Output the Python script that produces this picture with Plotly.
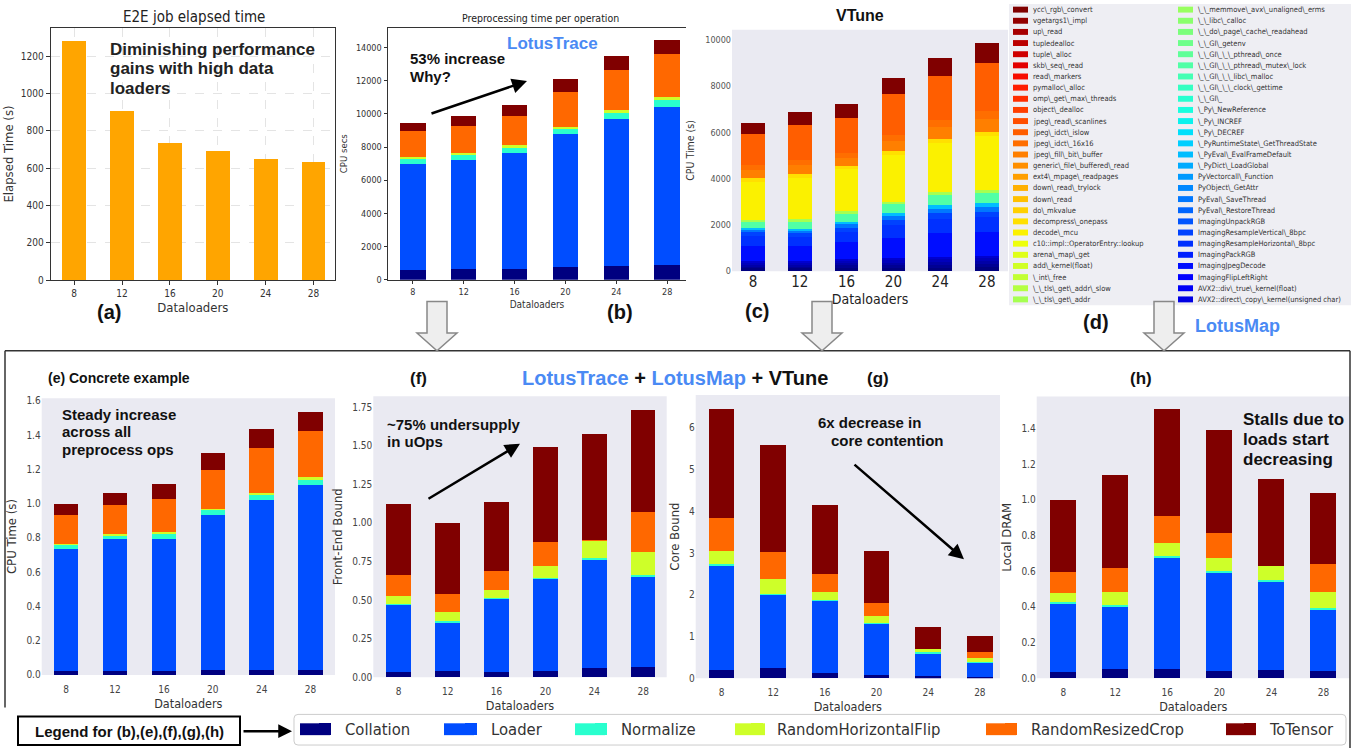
import numpy as np
import plotly.graph_objects as go

# ---------------------------------------------------------------- data
dataloaders = ["8", "12", "16", "20", "24", "28"]

# (a) end-to-end job elapsed time (s)
e2e_elapsed_s = [1280, 905, 737, 690, 652, 636]

ops = ["Collation", "Loader", "Normalize", "RandomHorizontalFlip",
       "RandomResizedCrop", "ToTensor"]

# (b) LotusTrace: preprocessing CPU secs per operation
b_cpu_secs = {
    "Collation": [590, 655, 655, 735, 834, 894],
    "Loader": [6400, 6574, 6991, 8023, 8858, 9533],
    "Normalize": [360, 318, 337, 358, 417, 417],
    "RandomHorizontalFlip": [80, 99, 120, 119, 99, 159],
    "RandomResizedCrop": [1510, 1648, 1747, 2105, 2443, 2581],
    "ToTensor": [516, 576, 676, 775, 814, 854],
}

# (e) CPU time (s)
e_cpu_time = {
    "Collation": [0.023, 0.023, 0.025, 0.029, 0.029, 0.031],
    "Loader": [0.710, 0.769, 0.767, 0.904, 0.990, 1.081],
    "Normalize": [0.025, 0.023, 0.031, 0.029, 0.029, 0.028],
    "RandomHorizontalFlip": [0.007, 0.010, 0.010, 0.009, 0.012, 0.014],
    "RandomResizedCrop": [0.166, 0.167, 0.192, 0.225, 0.263, 0.269],
    "ToTensor": [0.069, 0.073, 0.092, 0.100, 0.114, 0.115],
}

# (f) Front-End Bound
f_front_end = {
    "Collation": [0.036, 0.043, 0.036, 0.043, 0.062, 0.068],
    "Loader": [0.432, 0.312, 0.473, 0.596, 0.701, 0.580],
    "Normalize": [0.006, 0.006, 0.006, 0.006, 0.008, 0.012],
    "RandomHorizontalFlip": [0.054, 0.060, 0.053, 0.075, 0.116, 0.150],
    "RandomResizedCrop": [0.134, 0.118, 0.118, 0.156, 0.004, 0.259],
    "ToTensor": [0.460, 0.463, 0.449, 0.618, 0.684, 0.666],
}

# (g) Core Bound
g_core_bound = {
    "Collation": [0.205, 0.237, 0.134, 0.079, 0.047, 0.032],
    "Loader": [2.495, 1.763, 1.721, 1.231, 0.543, 0.347],
    "Normalize": [0.030, 0.020, 0.025, 0.020, 0.025, 0.016],
    "RandomHorizontalFlip": [0.32, 0.35, 0.19, 0.15, 0.08, 0.085],
    "RandomResizedCrop": [0.78, 0.65, 0.42, 0.32, 0.0, 0.14],
    "ToTensor": [2.63, 2.57, 1.65, 1.26, 0.525, 0.38],
}

# (h) Local DRAM
h_local_dram = {
    "Collation": [0.033, 0.050, 0.052, 0.041, 0.046, 0.042],
    "Loader": [0.386, 0.356, 0.626, 0.552, 0.499, 0.346],
    "Normalize": [0.006, 0.006, 0.005, 0.008, 0.007, 0.007],
    "RandomHorizontalFlip": [0.050, 0.070, 0.074, 0.073, 0.078, 0.089],
    "RandomResizedCrop": [0.120, 0.133, 0.154, 0.142, 0.0, 0.157],
    "ToTensor": [0.406, 0.525, 0.596, 0.573, 0.489, 0.397],
}

# (d) LotusMap legend, top of the stack first
lotusmap_col1 = [
    r"ycc\_rgb\_convert", r"vgetargs1\_impl", r"up\_read", r"tupledealloc",
    r"tuple\_alloc", r"skb\_seq\_read", r"read\_markers", r"pymalloc\_alloc",
    r"omp\_get\_max\_threads", r"object\_dealloc", r"jpeg\_read\_scanlines",
    r"jpeg\_idct\_islow", r"jpeg\_idct\_16x16", r"jpeg\_fill\_bit\_buffer",
    r"generic\_file\_buffered\_read", r"ext4\_mpage\_readpages",
    r"down\_read\_trylock", r"down\_read", r"do\_mkvalue",
    r"decompress\_onepass", r"decode\_mcu", r"c10::impl::OperatorEntry::lookup",
    r"arena\_map\_get", r"add\_kernel(float)", r"\_int\_free",
    r"\_\_tls\_get\_addr\_slow", r"\_\_tls\_get\_addr",
]
lotusmap_col2 = [
    r"\_\_memmove\_avx\_unaligned\_erms", r"\_\_libc\_calloc",
    r"\_\_do\_page\_cache\_readahead", r"\_\_GI\_getenv",
    r"\_\_GI\_\_\_pthread\_once", r"\_\_GI\_\_\_pthread\_mutex\_lock",
    r"\_\_GI\_\_\_libc\_malloc", r"\_\_GI\_\_\_clock\_gettime", r"\_\_GI\_",
    r"\_Py\_NewReference", r"\_Py\_INCREF", r"\_Py\_DECREF",
    r"\_PyRuntimeState\_GetThreadState", r"\_PyEval\_EvalFrameDefault",
    r"\_PyDict\_LoadGlobal", r"PyVectorcall\_Function", r"PyObject\_GetAttr",
    r"PyEval\_SaveThread", r"PyEval\_RestoreThread", r"ImagingUnpackRGB",
    r"ImagingResampleVertical\_8bpc", r"ImagingResampleHorizontal\_8bpc",
    r"ImagingPackRGB", r"ImagingJpegDecode", r"ImagingFlipLeftRight",
    r"AVX2::div\_true\_kernel(float)", r"AVX2::direct\_copy\_kernel(unsigned char)",
]
# functions at the bottom of the stack whose legend rows are cropped away
vtune_unlisted = ["unlisted_1", "unlisted_2", "unlisted_3", "unlisted_4", "unlisted_5"]

# (c) VTune CPU time (s) per function (functions not listed are ~0)
vtune_cpu_time = {
    "unlisted_1": [120, 120, 140, 150, 160, 170],
    "unlisted_2": [90, 90, 110, 120, 130, 140],
    "unlisted_3": [80, 80, 95, 105, 110, 120],
    "unlisted_4": [90, 85, 105, 115, 125, 130],
    "unlisted_5": [80, 80, 90, 100, 107, 115],
    r"ImagingJpegDecode": [640, 630, 709, 854, 1025, 1025],
    r"ImagingResampleHorizontal\_8bpc": [445, 384, 469, 542, 613, 640],
    r"ImagingResampleVertical\_8bpc": [142, 170, 171, 214, 241, 241],
    r"PyEval\_SaveThread": [113, 130, 142, 184, 186, 186],
    r"\_PyEval\_EvalFrameDefault": [58, 72, 90, 128, 157, 185],
    r"\_\_GI\_\_\_pthread\_mutex\_lock": [312, 340, 400, 427, 486, 482],
    r"\_\_tls\_get\_addr": [57, 70, 70, 71, 71, 71],
    r"decode\_mcu": [1650, 1800, 1820, 2007, 2136, 2321],
    r"decompress\_onepass": [142, 156, 142, 171, 171, 213],
    r"jpeg\_fill\_bit\_buffer": [356, 398, 355, 427, 498, 541],
    r"jpeg\_idct\_16x16": [214, 213, 213, 285, 327, 356],
    r"jpeg\_idct\_islow": [1338, 1500, 1520, 1751, 1891, 2062],
    r"ycc\_rgb\_convert": [470, 560, 593, 696, 799, 884],
}

# ---------------------------------------------------------------- helpers
W, H = 1355, 754


def fx(p):
    return p / W


def fy(p):
    return 1 - p / H


def jet(v):
    r = np.interp(v, [0, 0.35, 0.66, 0.89, 1], [0, 0, 1, 1, 0.5])
    g = np.interp(v, [0, 0.125, 0.375, 0.64, 0.91, 1], [0, 0, 1, 1, 0, 0])
    b = np.interp(v, [0, 0.11, 0.34, 0.65, 1], [0.5, 1, 1, 0, 0])
    return "rgb(%d,%d,%d)" % (round(r * 255), round(g * 255), round(b * 255))


FONT = "DejaVu Sans Condensed, DejaVu Sans, sans-serif"
BOLD = "Liberation Sans, Arial, sans-serif"
BLUE = "#4A8AF4"
SEA_BG = "#EAEAF2"
op_colors = [jet(i / 5) for i in range(6)]

fig = go.Figure()

# (a)
fig.add_trace(go.Bar(x=dataloaders, y=e2e_elapsed_s, width=0.5,
                     marker=dict(color="#FFA500", line=dict(width=0)),
                     xaxis="x", yaxis="y", showlegend=False, name="E2E"))

# (b), (e)-(h)
panel_data = [("2", b_cpu_secs), ("4", e_cpu_time), ("5", f_front_end),
              ("6", g_core_bound), ("7", h_local_dram)]
for ax, data in panel_data:
    for i, op in enumerate(ops):
        show = ax == "4"
        fig.add_trace(go.Bar(
            x=dataloaders, y=data[op], width=0.5, name=op, legendgroup=op,
            marker=dict(color=op_colors[i], line=dict(width=0)),
            xaxis="x" + ax, yaxis="y" + ax, showlegend=show,
            legend=("legend" if i == 0 else "legend%d" % (i + 1))))

# (c) stack, bottom first
vtune_stack = vtune_unlisted + list(reversed(lotusmap_col1 + lotusmap_col2))
n_stack = len(vtune_stack)
for s, fn in enumerate(vtune_stack):
    if fn in vtune_cpu_time:
        fig.add_trace(go.Bar(
            x=dataloaders, y=vtune_cpu_time[fn], width=0.5, name=fn,
            marker=dict(color=jet(s / (n_stack - 1)), line=dict(width=0)),
            xaxis="x3", yaxis="y3", showlegend=False))

# ---------------------------------------------------------------- axes
def tf(size, color="#333"):
    return dict(size=size, family=FONT, color=color)


cat = dict(type="category", categoryorder="array", categoryarray=dataloaders,
           zeroline=False, fixedrange=True)

layout = dict(
    width=W, height=H, margin=dict(l=0, r=0, t=0, b=0),
    paper_bgcolor="white", plot_bgcolor="white", barmode="stack",
    font=dict(family=FONT),
)

# (a)
layout["xaxis"] = dict(cat, domain=[fx(50.7), fx(335)], anchor="y", range=[-0.49, 5.45],
                       showline=True, mirror=True, linecolor="#333", ticks="outside",
                       ticklen=4, tickcolor="#333", tickfont=tf(10),
                       showgrid=True, gridcolor="#e4e4e4", griddash="dash",
                       title=dict(text="Dataloaders", font=tf(13), standoff=4))
layout["yaxis"] = dict(domain=[fy(280.7), fy(25)], anchor="x", range=[0, 1352],
                       tickvals=[0, 200, 400, 600, 800, 1000, 1200], tickformat="d",
                       showline=True, mirror=True, linecolor="#333", ticks="outside",
                       ticklen=4, tickcolor="#333", tickfont=tf(10), zeroline=False,
                       showgrid=True, gridcolor="#e4e4e4", griddash="dash",
                       title=dict(text="Elapsed Time (s)", font=tf(13), standoff=4))
# (b)
layout["xaxis2"] = dict(cat, domain=[fx(388), fx(686)], anchor="y2", range=[-0.49, 5.37],
                        showline=True, mirror=True, linecolor="#333", ticks="outside",
                        ticklen=3.5, tickcolor="#333", tickfont=tf(9), showgrid=False,
                        title=dict(text="Dataloaders", font=tf(10), standoff=5))
layout["yaxis2"] = dict(domain=[fy(280), fy(25)], anchor="x2", range=[0, 15200],
                        tickvals=[0, 2000, 4000, 6000, 8000, 10000, 12000, 14000],
                        tickformat="d",
                        showline=True, linecolor="#333", ticks="outside", ticklen=3.5,
                        tickcolor="#333", tickfont=tf(9), showgrid=False, zeroline=False,
                        title=dict(text="CPU secs", font=tf(9.5), standoff=6))
# (c)
layout["xaxis3"] = dict(cat, domain=[fx(732), fx(1008)], anchor="y3", range=[-0.45, 5.45],
                        showline=False, ticks="", showgrid=False, tickfont=tf(15, "#222"),
                        title=dict(text="Dataloaders", font=tf(14, "#222"), standoff=0))
layout["yaxis3"] = dict(domain=[fy(271.5), fy(27)], anchor="x3", range=[0, 10440],
                        tickvals=[0, 2000, 4000, 6000, 8000, 10000], tickformat="d",
                        showline=False,
                        ticks="", showgrid=False, zeroline=False, tickfont=tf(9, "#555"),
                        title=dict(text="CPU Time (s)", font=tf(10.5, "#333"), standoff=8))

sea = [
    ("4", (41.7, 335), (400, 680), [-0.5, 5.5], [0, 1.616],
     [0, 0.2, 0.4, 0.6, 0.8, 1.0, 1.2, 1.4, 1.6], ".1f", "CPU Time (s)"),
    ("5", (373.3, 666.7), (398, 682.3), [-0.52, 5.48], [0, 1.822],
     [0, 0.25, 0.5, 0.75, 1.0, 1.25, 1.5, 1.75], ".2f", "Front-End Bound"),
    ("6", (695.7, 1000), (396.7, 683.3), [-0.5, 5.39], [0, 6.79],
     [0, 1, 2, 3, 4, 5, 6], "d", "Core Bound"),
    ("7", (1036.7, 1350), (398.3, 683.3), [-0.51, 5.51], [0, 1.579],
     [0, 0.2, 0.4, 0.6, 0.8, 1.0, 1.2, 1.4], ".1f", "Local DRAM"),
]
for ax, xs, ys, xr, yr, tv, fmt, ytitle in sea:
    layout["xaxis" + ax] = dict(cat, domain=[fx(xs[0]), fx(xs[1])], anchor="y" + ax,
                                range=xr, showline=False, ticks="outside", ticklen=5,
                                tickcolor="rgba(0,0,0,0)", showgrid=False,
                                tickfont=tf(10, "#444"),
                                title=dict(text="Dataloaders", font=tf(12.5, "#333"),
                                           standoff=5))
    layout["yaxis" + ax] = dict(domain=[fy(ys[1]), fy(ys[0])], anchor="x" + ax, range=yr,
                                tickvals=tv, tickformat=fmt, showline=False, ticks="",
                                showgrid=False, zeroline=False, tickfont=tf(10, "#444"),
                                title=dict(text=ytitle, font=tf(13, "#333"), standoff=6))

# bottom legend: one small legend per operation so each sits where the reference has it
legend_text_x = [345, 491, 621, 777, 1031, 1270]
legend_swatch_x = [300, 444, 575, 735, 986, 1226]
for i, op in enumerate(ops):
    key = "legend" if i == 0 else "legend%d" % (i + 1)
    layout[key] = dict(x=fx(legend_text_x[i] - 40), y=fy(735), xanchor="left",
                       yanchor="middle", orientation="h", bgcolor="rgba(0,0,0,0)",
                       borderwidth=0, font=dict(size=16.5, family=FONT, color="#333"))

# ---------------------------------------------------------------- shapes
shapes = []
for ax in ["3", "4", "5", "6", "7"]:
    shapes.append(dict(type="rect", xref="x%s domain" % ax, yref="y%s domain" % ax,
                       x0=0, x1=1, y0=0, y1=1, fillcolor=SEA_BG, line=dict(width=0),
                       layer="below"))
# (d) legend background
shapes.append(dict(type="rect", xref="paper", yref="paper", x0=fx(1009), x1=fx(1351),
                   y0=fy(306), y1=fy(1), fillcolor="#EEEEF3", line=dict(width=0),
                   layer="below"))


def seg(x0, y0, x1, y1, color="#333", width=1.5):
    shapes.append(dict(type="line", xref="paper", yref="paper", x0=fx(x0), y0=fy(y0),
                       x1=fx(x1), y1=fy(y1), line=dict(color=color, width=width)))


def rounded_rect(x0, y0, x1, y1, r):
    pts = ("M %f,%f L %f,%f Q %f,%f %f,%f L %f,%f Q %f,%f %f,%f L %f,%f "
           "Q %f,%f %f,%f L %f,%f Q %f,%f %f,%f Z") % (
        fx(x0 + r), fy(y0), fx(x1 - r), fy(y0), fx(x1), fy(y0), fx(x1), fy(y0 + r),
        fx(x1), fy(y1 - r), fx(x1), fy(y1), fx(x1 - r), fy(y1),
        fx(x0 + r), fy(y1), fx(x0), fy(y1), fx(x0), fy(y1 - r),
        fx(x0), fy(y0 + r), fx(x0), fy(y0), fx(x0 + r), fy(y0))
    return pts


# lower frame
seg(5, 352, 1350, 352)
seg(5, 352, 5, 713)
seg(1350, 352, 1350, 754)

# hollow down arrows
for cx in [437, 822, 1164]:
    pts = [(cx - 10, 302), (cx + 10, 302), (cx + 10, 334), (cx + 20, 334), (cx, 352),
           (cx - 20, 334), (cx - 10, 334)]
    path = "M " + " L ".join("%.5f,%.5f" % (fx(a), fy(b)) for a, b in pts) + " Z"
    shapes.append(dict(type="path", xref="paper", yref="paper", path=path,
                       fillcolor="#EEEEEE", line=dict(color="#888", width=1.5)))

# legend boxes
shapes.append(dict(type="rect", xref="paper", yref="paper", x0=fx(18), x1=fx(240),
                   y0=fy(751), y1=fy(722), line=dict(color="black", width=2),
                   fillcolor="white"))
shapes.append(dict(type="path", xref="paper", yref="paper",
                   path=rounded_rect(294, 720, 1346, 751, 4),
                   line=dict(color="#cccccc", width=1), fillcolor="white", layer="below"))
# larger colour patches behind the legend symbols
for i in range(len(ops)):
    shapes.append(dict(type="rect", xref="paper", yref="paper",
                       x0=fx(legend_swatch_x[i]), x1=fx(legend_swatch_x[i] + 30),
                       y0=fy(741), y1=fy(729), fillcolor=op_colors[i],
                       line=dict(width=0)))

annotations = []


def text(x, y, s, size, color="#111", bold=True, xanchor="left", family=BOLD):
    annotations.append(dict(x=fx(x), y=fy(y), xref="paper", yref="paper",
                            text=("<b>%s</b>" % s) if bold else s, showarrow=False,
                            xanchor=xanchor, yanchor="middle", align=xanchor,
                            font=dict(size=size, family=family, color=color)))


def arrow(tx, ty, hx, hy, width=2.5, size=1.2):
    annotations.append(dict(x=fx(hx), y=fy(hy), ax=tx - hx, ay=ty - hy, xref="paper",
                            yref="paper", axref="pixel", ayref="pixel", text="",
                            showarrow=True, arrowhead=2, arrowwidth=width,
                            arrowsize=size, arrowcolor="black"))


# (d) LotusMap legend rows
for col, names in enumerate([lotusmap_col1, lotusmap_col2]):
    for r, name in enumerate(names):
        s = n_stack - 1 - (col * len(lotusmap_col1) + r)
        yc = 6.7 + r * 11.28
        sx = [1013, 1178][col]
        shapes.append(dict(type="rect", xref="paper", yref="paper", x0=fx(sx),
                           x1=fx(sx + 15), y0=fy(yc + 3), y1=fy(yc - 3),
                           fillcolor=jet(s / (n_stack - 1)), line=dict(width=0)))
        text([1031, 1196][col], yc, name, 7.5, color="#333", bold=False, family=FONT)

# ---------------------------------------------------------------- texts
text(194, 14, "E2E job elapsed time", 15, color="#222", bold=False,
     xanchor="center", family=FONT)
text(540, 15, "Preprocessing time per operation", 10.5, color="#222", bold=False,
     xanchor="center", family=FONT)
text(860, 13, "VTune", 16, xanchor="center")
text(109, 313, "(a)", 20, xanchor="center")
text(620, 313, "(b)", 20, xanchor="center")
text(757, 312, "(c)", 20, xanchor="center")
text(1096, 323, "(d)", 20, xanchor="center")
text(1237, 327, "LotusMap", 18, color=BLUE, xanchor="center")
text(552, 41, "LotusTrace", 17, color=BLUE, xanchor="center")

for i, line in enumerate(["Diminishing performance", "gains with high data", "loaders"]):
    text(108, 46.7 + i * 19.7, line, 17, color="#222")
for i, line in enumerate(["53% increase", "Why?"]):
    text(408, 56 + i * 18, line, 15)
arrow(430, 112, 527, 79)

text(46, 380, "(e) Concrete example", 14)
text(418, 380, "(f)", 17, xanchor="center")
text(878, 380, "(g)", 17, xanchor="center")
text(1141, 380, "(h)", 17, xanchor="center")
text(675, 380, "<span style='color:%s'>LotusTrace</span> + "
               "<span style='color:%s'>LotusMap</span> + VTune" % (BLUE, BLUE),
     20, xanchor="center")

for i, line in enumerate(["Steady increase", "across all", "preprocess ops"]):
    text(60, 416 + i * 18, line, 15)
for i, line in enumerate(["~75% undersupply", "in uOps"]):
    text(385, 426.7 + i * 17.5, line, 15)
arrow(427, 502, 520, 446)
text(816, 425, "6x decrease in", 15)
text(829, 443, "core contention", 15)
arrow(853, 467, 964, 563)
for i, line in enumerate(["Stalls due to", "loads start", "decreasing"]):
    text(1241, 422 + i * 20, line, 17)

text(129, 737, "Legend for (b),(e),(f),(g),(h)", 15, xanchor="center")
arrow(242, 737, 292, 737, width=2.5, size=1.1)

layout["shapes"] = shapes
layout["annotations"] = annotations
fig.update_layout(**layout)
fig.write_html("out.html", config={"displayModeBar": False},
               post_script="document.body.style.margin='0px';"
                           "document.body.style.overflow='hidden';")
